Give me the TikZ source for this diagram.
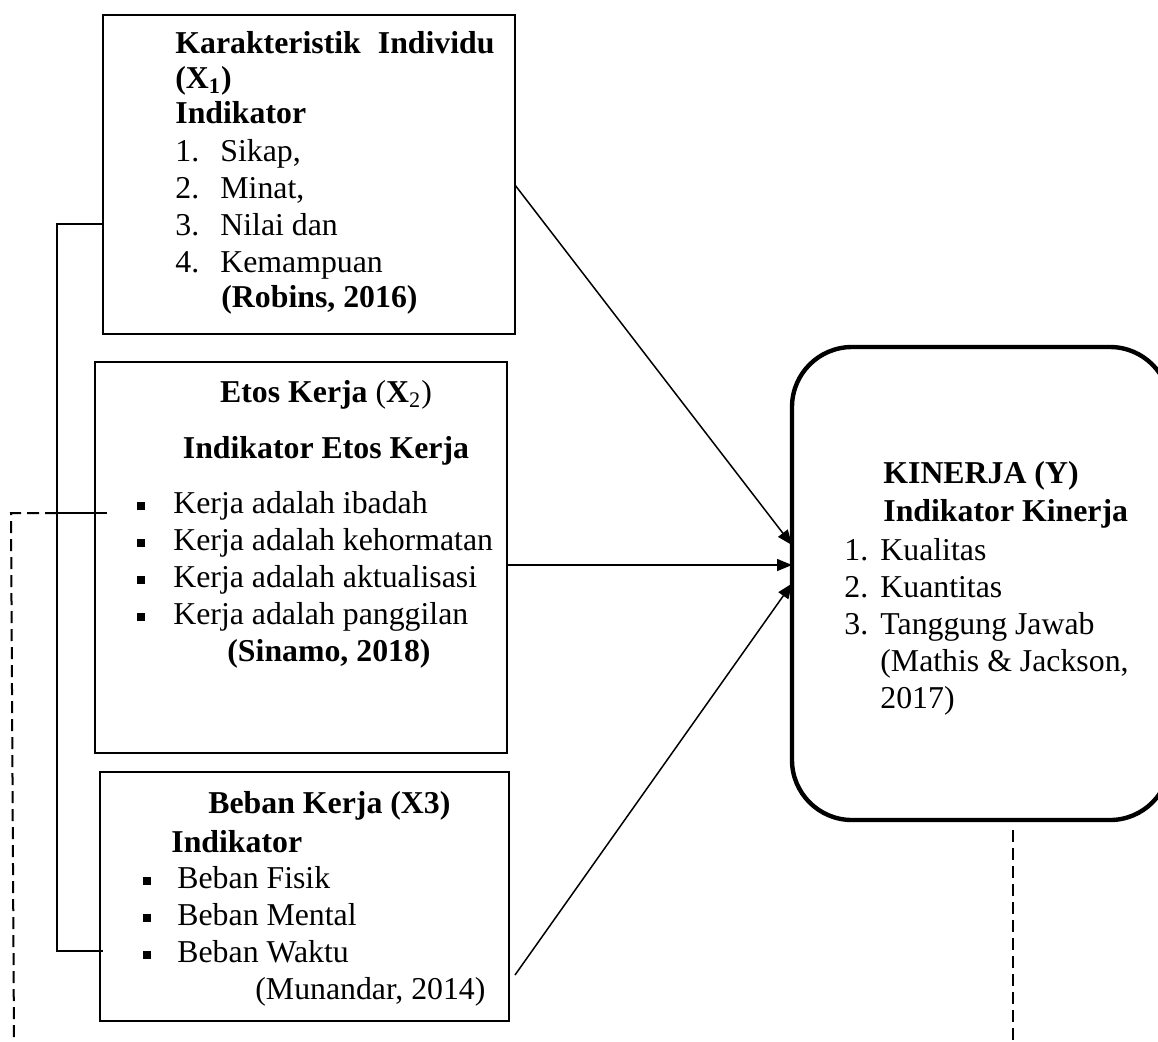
\documentclass[tikz,border=0pt]{standalone}
\usepackage{fontspec}
\setmainfont{Liberation Serif}
\usetikzlibrary{positioning, calc, arrows.meta}

\begin{document}
\begin{tikzpicture}[x=0.5pt, y=-0.5pt,
	every node/.style={font=\fontsize{15.9pt}{18.5pt}\selectfont},
	box/.style={draw, line width=1pt, anchor=north west, inner sep=0pt, outer sep=0pt},
	txt/.style={anchor=base west, inner sep=0pt},
	ctr/.style={anchor=base, inner sep=0pt},
	link/.style={line width=0.75pt},
	arr/.style={line width=0.75pt, -{Triangle[length=7.5pt,width=6pt]}},
	dashline/.style={line width=1pt, dash pattern=on 6pt off 3pt}]
	\useasboundingbox (0,0) rectangle (1158,1041);
	\clip (0,0) rectangle (1158,1041);
	
	% the four boxes
	\node[box, minimum width=206pt, minimum height=159.5pt] (kar) at (103,15) {};
	\node[box, minimum width=206pt, minimum height=195.5pt] (etos) at (95,362) {};
	\node[box, minimum width=204.5pt, minimum height=124.5pt] (beban) at (100,772) {};
	\node[box, line width=2.2pt, rounded corners=30pt, minimum width=189pt, minimum height=236.5pt] (kin) at (792,347) {};
	
	% X1
	\node[txt] (karA) at (175,53) {\bfseries Karakteristik};
	\node[anchor=base east, inner sep=0pt] (karB) at (495,53) {\bfseries Individu};
	\node[txt] (karC) at (175,88) {\bfseries (X\textsubscript{1})};
	\node[txt] (karD) at (175,123) {\bfseries Indikator};
	\foreach \num/\item [count=\i] in {1./{Sikap,}, 2./{Minat,}, 3./{Nilai dan}, 4./Kemampuan}{
		\node[txt] (kn\i) at (175,{124+37*\i}) {\num};
		\node[txt] (ki\i) at (220,{124+37*\i}) {\item};
	}
	\node[txt] (karE) at (221,307) {\bfseries (Robins, 2016)};
	
	% X2
	\node[ctr] (etosA) at (326,402) {{\bfseries Etos Kerja }({\bfseries X}\textsubscript{2})};
	\node[ctr] (etosB) at (326,458) {\bfseries Indikator Etos Kerja};
	\foreach \item [count=\i] in {Kerja adalah ibadah, Kerja adalah kehormatan, Kerja adalah aktualisasi, Kerja adalah panggilan}{
		\node[txt] (eb\i) at (137,{476+37*\i}) {\rule[1.6pt]{3.8pt}{3.8pt}};
		\node[txt] (ei\i) at (173,{476+37*\i}) {\item};
	}
	\node[txt] (etosC) at (227,661) {\bfseries (Sinamo, 2018)};
	
	% X3
	\node[txt] (bebA) at (208,813) {\bfseries Beban Kerja (X3)};
	\node[txt] (bebB) at (171,852) {\bfseries Indikator};
	\foreach \item [count=\i] in {Beban Fisik, Beban Mental, Beban Waktu}{
		\node[txt] (bb\i) at (143,{851+37*\i}) {\rule[1.6pt]{3.8pt}{3.8pt}};
		\node[txt] (bi\i) at (177,{851+37*\i}) {\item};
	}
	\node[txt] (bebC) at (255,999) {(Munandar, 2014)};
	
	% Y
	\node[txt] (kinA) at (883,483) {\bfseries KINERJA (Y)};
	\node[txt] (kinB) at (883,521) {\bfseries Indikator Kinerja};
	\foreach \num/\item [count=\i] in {1./Kualitas, 2./Kuantitas, 3./{Tanggung Jawab}}{
		\node[txt] (yn\i) at (844,{523+37*\i}) {\num};
		\node[txt] (yi\i) at (880,{523+37*\i}) {\item};
	}
	\node[txt] (kinC) at (880,671) {(Mathis \& Jackson,};
	\node[txt] (kinD) at (880,708) {2017)};
	
	% connectors on the left
	\coordinate (spineTop) at (57,224);
	\coordinate (spineMid) at (57,513);
	\coordinate (spineBot) at (57,951);
	\coordinate (dashTop) at (11,513);
	\coordinate (dashBot) at (14,1041);
	\draw[link] ($(kar.west)+(0,49.5)$) -- (spineTop) -- (spineBot) -- ($(beban.west)+(3,54.5)$);
	\draw[link] (spineMid) -- ($(etos.west)+(12,-44.5)$);
	\draw[dashline] (spineMid) -- (dashTop) -- (dashBot);
	
	% arrows into Y
	\coordinate (bebanOut) at (515,975);
	\draw[arr] ($(kar.east)+(0,10.5)$) -- ($(kin.west)+(0,-38.5)$);
	\draw[arr] ($(etos.east)+(0,7.5)$) -- ($(kin.west)+(0,-18.5)$);
	\draw[arr] (bebanOut) -- (kin.west);
	
	% dashed line below Y
	\coordinate (yEnd) at (1013,1041);
	\draw[dashline, line width=0.7pt] ($(kin.south)+(32,10)$) -- (yEnd);
\end{tikzpicture}
\end{document}
